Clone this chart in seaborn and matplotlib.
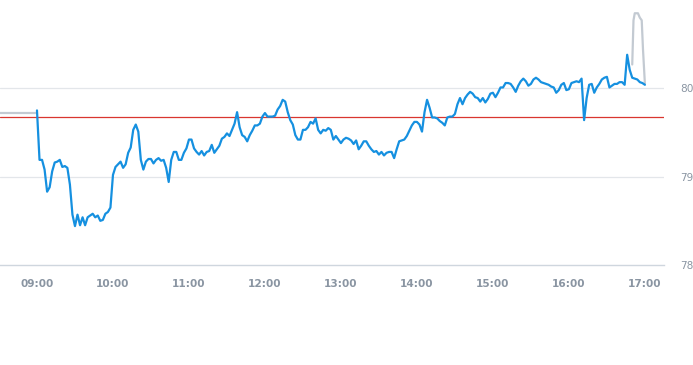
import numpy as np
import pandas as pd
import seaborn as sns
import matplotlib.pyplot as plt

# intraday price, sampled every 2 minutes from 09:00 to 17:00
price = [
    79.75, 79.19, 79.19, 79.08, 78.83, 78.88, 79.06, 79.16, 79.17, 79.19,
    79.11, 79.12, 79.10, 78.91, 78.57, 78.44, 78.57, 78.45, 78.54, 78.45,
    78.54, 78.56, 78.58, 78.54, 78.56, 78.50, 78.51, 78.58, 78.60, 78.65,
    79.02, 79.11, 79.14, 79.17, 79.10, 79.14, 79.27, 79.33, 79.53, 79.59,
    79.51, 79.19, 79.08, 79.17, 79.20, 79.20, 79.15, 79.19, 79.21, 79.18,
    79.19, 79.10, 78.94, 79.19, 79.28, 79.28, 79.19, 79.19, 79.27, 79.32,
    79.42, 79.42, 79.32, 79.28, 79.25, 79.29, 79.24, 79.28, 79.29, 79.36,
    79.27, 79.31, 79.35, 79.43, 79.45, 79.49, 79.46, 79.53, 79.60, 79.73,
    79.56, 79.47, 79.45, 79.40, 79.47, 79.52, 79.58, 79.58, 79.60, 79.68,
    79.72, 79.68, 79.68, 79.68, 79.69, 79.76, 79.80, 79.87, 79.85, 79.73,
    79.64, 79.59, 79.47, 79.42, 79.42, 79.53, 79.53, 79.56, 79.62, 79.60,
    79.66, 79.53, 79.49, 79.53, 79.52, 79.55, 79.53, 79.42, 79.46, 79.42,
    79.38, 79.42, 79.44, 79.43, 79.41, 79.37, 79.41, 79.31, 79.35, 79.40,
    79.40, 79.35, 79.31, 79.28, 79.29, 79.25, 79.28, 79.24, 79.27, 79.28,
    79.28, 79.21, 79.31, 79.40, 79.41, 79.42, 79.46, 79.52, 79.58, 79.62,
    79.62, 79.59, 79.51, 79.73, 79.87, 79.78, 79.67, 79.67, 79.66, 79.63,
    79.61, 79.58, 79.67, 79.68, 79.68, 79.71, 79.82, 79.89, 79.82, 79.89,
    79.93, 79.96, 79.94, 79.90, 79.89, 79.85, 79.89, 79.84, 79.88, 79.94,
    79.95, 79.90, 79.95, 80.01, 80.01, 80.06, 80.06, 80.05, 80.01, 79.96,
    80.03, 80.08, 80.11, 80.08, 80.03, 80.05, 80.10, 80.12, 80.10, 80.07,
    80.06, 80.05, 80.04, 80.02, 80.01, 79.95, 79.98, 80.04, 80.06, 79.98,
    79.99, 80.06, 80.07, 80.08, 80.07, 80.11, 79.64, 79.89, 80.04, 80.05,
    79.95, 80.01, 80.05, 80.10, 80.12, 80.13, 80.01, 80.03, 80.05, 80.05,
    80.07, 80.07, 80.04, 80.38, 80.21, 80.12, 80.11, 80.10, 80.07, 80.06,
    80.04,
]
minutes = list(range(0, 2 * len(price), 2))

# pre-market and after-hours prints (grey)
pre_minutes = [-30, 0]
pre_price = [79.72, 79.72]
post_minutes = [470, 471, 472, 474.5, 476, 477.5, 478.5, 480]
post_price = [80.27, 80.77, 80.85, 80.85, 80.80, 80.77, 80.44, 80.05]

prev_close = 79.67

hour_ticks = [0, 60, 120, 180, 240, 300, 360, 420, 480]
hour_labels = ["09:00", "10:00", "11:00", "12:00", "13:00",
               "14:00", "15:00", "16:00", "17:00"]
y_ticks = [78, 79, 80]

session = pd.DataFrame({"minute": minutes, "price": price})
pre = pd.DataFrame({"minute": pre_minutes, "price": pre_price})
post = pd.DataFrame({"minute": post_minutes, "price": post_price})

sns.set_style("white")
fig = plt.figure(figsize=(6.93, 3.65), dpi=100)
ax = fig.add_axes([0.0, 0.274, 0.958, 0.726])

grey = "#c3cad2"
sns.lineplot(data=pre, x="minute", y="price", ax=ax, color=grey, linewidth=1.6)
sns.lineplot(data=post, x="minute", y="price", ax=ax, color=grey, linewidth=1.6)
sns.lineplot(data=session, x="minute", y="price", ax=ax, color="#1590e0", linewidth=1.6)
ax.axhline(prev_close, color="#d9362f", linewidth=0.9, zorder=1)

ax.set_xlim(-29.2, 495)
ax.set_ylim(78, 81)

for v in y_ticks[1:]:
    ax.axhline(v, color="#e3e6ea", linewidth=0.9, zorder=0)

ax.set_xticks(hour_ticks)
ax.set_xticklabels(hour_labels)
ax.set_yticks(y_ticks)
ax.yaxis.tick_right()
ax.tick_params(axis="x", length=4, color="#cfd6de", labelsize=7.6,
               labelcolor="#8a95a2", pad=6)
ax.tick_params(axis="y", length=0, labelsize=7.6, labelcolor="#8a95a2", pad=12)
for lab in ax.get_xticklabels():
    lab.set_fontweight("bold")
ax.set_xlabel("")
ax.set_ylabel("")

for side in ["top", "left", "right"]:
    ax.spines[side].set_visible(False)
ax.spines["bottom"].set_color("#cfd6de")
ax.spines["bottom"].set_linewidth(1.0)

fig.savefig("out.png", dpi=100)
